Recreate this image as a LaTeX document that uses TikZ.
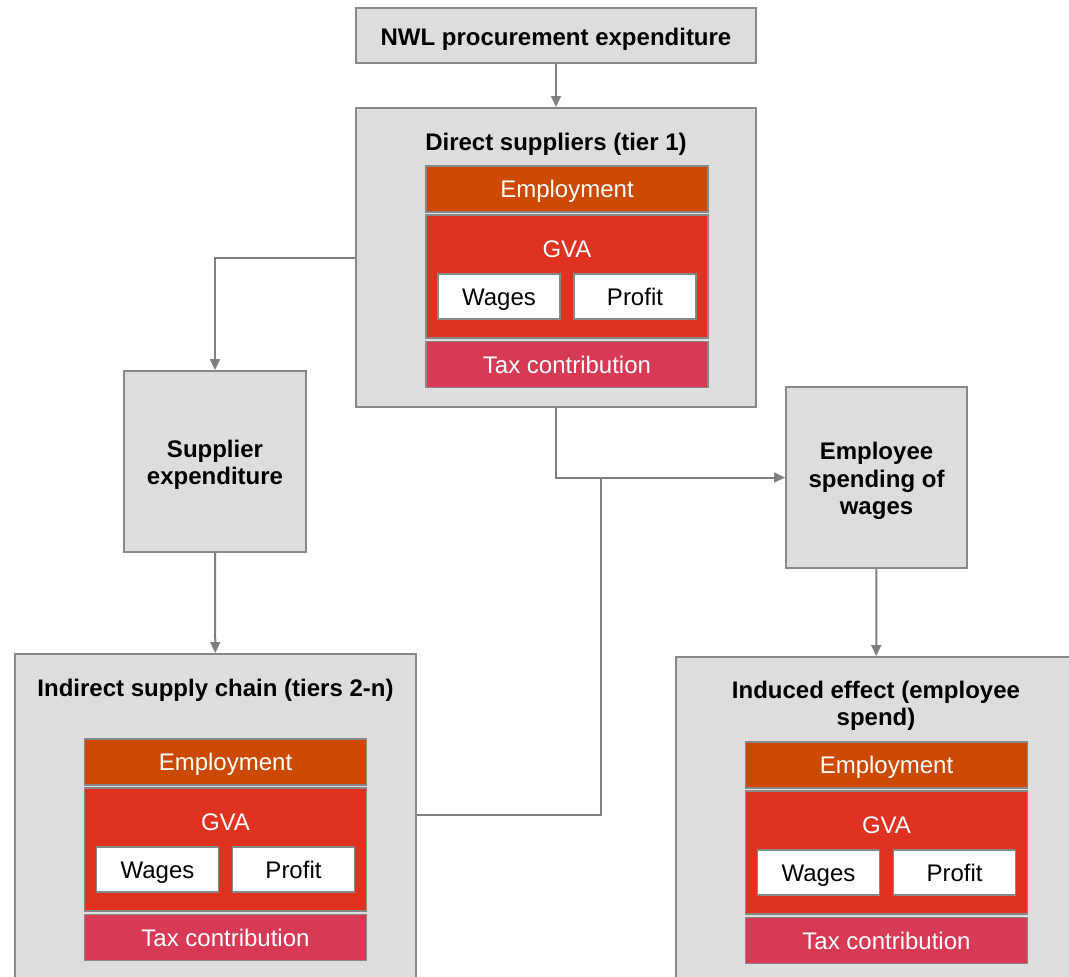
\documentclass[tikz,border=0pt]{standalone}
\usepackage{fontspec}
\setmainfont{Liberation Sans}
\usetikzlibrary{arrows.meta}
\definecolor{panelfill}{HTML}{DDDDDD}
\definecolor{edge}{HTML}{888888}
\definecolor{wire}{HTML}{7F7F7F}
\definecolor{empcol}{HTML}{CC4A00}
\definecolor{gvacol}{HTML}{DF3220}
\definecolor{taxcol}{HTML}{D83A56}

% Employment / GVA (wages, profit) / tax stack, #1 name prefix, #2 centre x, #3 top y
\newcommand{\effectstack}[3]{%
  \node[band, fill=empcol, minimum height=46pt] (#1emp) at (#2, #3+23) {Employment};
  \node[band, fill=gvacol, minimum height=123pt] (#1gva) at (#2, #3+110.5) {};
  \node[bandtext] (#1gvalabel) at (#2, #3+83) {GVA};
  \node[part] (#1wages) at (#2-68, #3+130.5) {Wages};
  \node[part] (#1profit) at (#2+68, #3+130.5) {Profit};
  \node[band, fill=taxcol, minimum height=46pt] (#1tax) at (#2, #3+198.5) {Tax contribution};
}

\begin{document}
\begin{tikzpicture}[x=1pt, y=-1pt,
  base/.style={font=\fontsize{24}{27.5}\selectfont},
  capcentred/.style={text height=17.2pt, text depth=0pt},
  panel/.style={draw=edge, fill=panelfill, line width=2pt, inner sep=0pt},
  title/.style={base, font=\bfseries\fontsize{24}{27.5}\selectfont, align=center, inner sep=0pt},
  band/.style={base, capcentred, draw=edge, line width=1.5pt, text=white, minimum width=282pt, inner sep=0pt},
  bandtext/.style={base, capcentred, text=white, inner sep=0pt},
  part/.style={base, capcentred, draw=edge, line width=1.5pt, fill=white, minimum width=122pt, minimum height=45pt, inner sep=0pt},
  conn/.style={draw=wire, line width=2pt, -{Triangle[length=11pt, width=10pt]}},
  wireline/.style={draw=wire, line width=2pt}
]
\useasboundingbox (0,0) rectangle (1069,977);
\clip (0,0) rectangle (1069,977);

% top source
\node[panel, minimum width=400pt, minimum height=55pt] (nwl) at (556,35.5) {};
\node[title, capcentred] (nwltext) at (556,37) {NWL procurement expenditure};

% direct suppliers
\node[panel, minimum width=400pt, minimum height=299pt] (direct) at (556,257.5) {};
\node[title, capcentred] (directtitle) at (556,142) {Direct suppliers (tier 1)};
\effectstack{ds}{567}{166}

% supplier expenditure
\node[panel, minimum width=182pt, minimum height=181pt] (supplier) at (215,461.5) {};
\node[title] (suppliertext) at (215,465) {Supplier\\expenditure};

% employee spending
\node[panel, minimum width=181pt, minimum height=181pt] (employee) at (876.5,477.5) {};
\node[title] (employeetext) at (876.5,481) {Employee\\spending of\\wages};

% indirect supply chain
\node[panel, minimum width=401pt, minimum height=336pt] (indirect) at (215.5,822) {};
\node[title, capcentred] (indirecttitle) at (215.5,688) {Indirect supply chain (tiers 2-n)};
\effectstack{ind}{225.5}{739}

% induced effect
\node[panel, minimum width=400pt, minimum height=336pt] (induced) at (876,825) {};
\node[title] (inducedtitle) at (876,706) {Induced effect (employee\\spend)};
\effectstack{inc}{886.5}{742}

% connectors
\coordinate (join) at (601,478);
\draw[conn] (nwl) -- (direct);
\draw[conn] (direct.west) -| (supplier.north);
\draw[conn] (direct.south) |- (employee.west);
\draw[conn] (supplier) -- (indirect);
\draw[conn] (employee) -- (induced);
\draw[wireline] ([yshift=-162pt]indirect.north east) -| (join);
\end{tikzpicture}
\end{document}
